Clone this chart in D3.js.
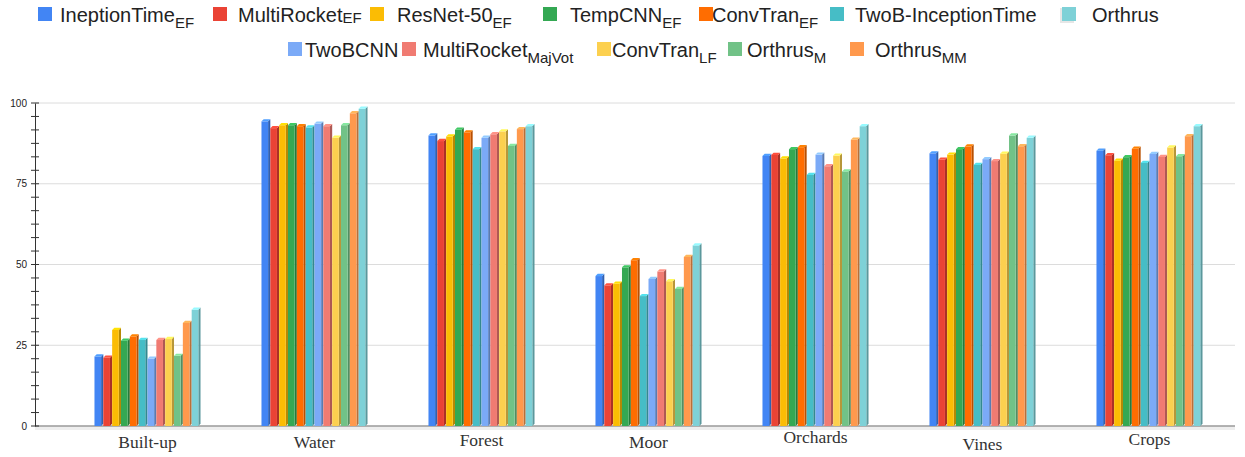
<!DOCTYPE html>
<html><head><meta charset="utf-8">
<script src="https://cdn.jsdelivr.net/npm/d3@7"></script>
<style>
html,body{margin:0;padding:0;background:#fff;}
svg{display:block;}
</style></head>
<body>
<svg id="c" width="1245" height="457"></svg>
<script>
// ---- data ----
const categories = ["Built-up","Water","Forest","Moor","Orchards","Vines","Crops"];
const seriesBase = ["IneptionTime","MultiRocket","ResNet-50","TempCNN","ConvTran","TwoB-InceptionTime","TwoBCNN","MultiRocket","ConvTran","Orthrus","Orthrus","Orthrus"];
const seriesSub  = ["EF","EF","EF","EF","EF","","","MajVot","LF","M","MM",""];
const seriesColors = ["#4285F4","#EA4335","#FBBC04","#34A853","#FF6D01","#46BDC6","#7BAAF7","#F07B72","#FCD04F","#71C287","#FF994D","#7ED1D7"];
// values per series, in category order
const vInceptionTimeEF   = [22.2, 95.0, 90.6, 47.1, 84.3, 85.1, 85.9];
const vMultiRocketEF     = [21.8, 92.9, 88.9, 44.2, 84.6, 83.1, 84.5];
const vResNet50EF        = [30.4, 93.8, 90.3, 44.7, 83.5, 84.7, 82.8];
const vTempCNNEF         = [27.1, 93.8, 92.4, 49.8, 86.4, 86.4, 83.9];
const vConvTranEF        = [28.4, 93.5, 91.6, 52.0, 87.0, 87.2, 86.5];
const vTwoBInceptionTime = [27.3, 93.1, 86.4, 40.9, 78.4, 81.5, 82.1];
const vTwoBCNN           = [21.5, 94.3, 89.9, 46.2, 84.7, 83.3, 84.9];
const vMultiRocketMajVot = [27.3, 93.5, 91.0, 48.5, 81.1, 82.7, 84.0];
const vConvTranLF        = [27.6, 89.9, 91.9, 45.5, 84.4, 85.0, 86.9];
const vOrthrusM          = [22.4, 93.8, 87.4, 43.1, 79.5, 90.6, 84.2];
const vOrthrusMM         = [32.6, 97.5, 92.6, 53.0, 89.3, 87.3, 90.4];
const vOrthrus           = [36.7, 98.9, 93.5, 56.6, 93.5, 89.9, 93.5];
const seriesValues = [vInceptionTimeEF,vMultiRocketEF,vResNet50EF,vTempCNNEF,vConvTranEF,vTwoBInceptionTime,vTwoBCNN,vMultiRocketMajVot,vConvTranLF,vOrthrusM,vOrthrusMM,vOrthrus];
const yTickLabels = [0,25,50,75,100];

// ---- layout ----
const svg = d3.select("#c");
const y = d3.scaleLinear().domain([0,100]).range([426,103]);
const x0 = d3.scaleBand().domain(categories).range([64,1233]).paddingInner(0.365).paddingOuter(0.1825);
const x1 = d3.scaleBand().domain(d3.range(seriesBase.length)).range([0,x0.bandwidth()]);
const depth = 2.2;

// gridlines
svg.append("g").selectAll("line").data(yTickLabels.filter(d=>d>0)).join("line")
  .attr("x1",35).attr("x2",1235).attr("y1",d=>y(d)).attr("y2",d=>y(d))
  .attr("stroke","#dcdcdc").attr("stroke-width",1);

// baseline with shadow
svg.append("rect").attr("x",35).attr("y",y(0)).attr("width",1200).attr("height",4).attr("fill","#eeeeee");
svg.append("line").attr("x1",35).attr("x2",1235).attr("y1",y(0)).attr("y2",y(0))
  .attr("stroke","#9a9a9a").attr("stroke-width",1.6);

// bars
const groups = svg.append("g").selectAll("g").data(categories).join("g")
  .attr("transform",d=>`translate(${x0(d)},0)`);
groups.each(function(cat,ci){
  const g = d3.select(this);
  const recs = seriesValues.map((arr,si)=>({si,v:arr[ci]}));
  const bw = x1.bandwidth();
  const fw = bw - depth;
  const bar = g.selectAll("g.bar").data(recs).join("g").attr("class","bar");
  // side face
  bar.append("path").attr("d",d=>{
    const xl = x1(d.si)+fw, yt = y(d.v)+depth, yb = y(0);
    return `M${xl},${yt}L${xl+depth},${yt-depth}L${xl+depth},${yb-depth}L${xl},${yb}Z`;
  }).attr("fill",d=>d3.color(seriesColors[d.si]).darker(0.9));
  // front face
  bar.append("rect").attr("x",d=>x1(d.si)).attr("y",d=>y(d.v)+depth)
    .attr("width",fw).attr("height",d=>y(0)-y(d.v)-depth)
    .attr("fill",d=>seriesColors[d.si]);
  // top cap
  bar.append("path").attr("d",d=>{
    const xl = x1(d.si), yt = y(d.v)+depth;
    return `M${xl},${yt}L${xl+depth},${yt-depth}L${xl+fw+depth},${yt-depth}L${xl+fw},${yt}Z`;
  }).attr("fill",d=>d3.color(seriesColors[d.si]).brighter(0.5));
});

// y axis
const yAxis = d3.axisLeft(y).tickValues(yTickLabels).tickSize(0).tickPadding(8);
const ya = svg.append("g").attr("transform","translate(35,0)").call(yAxis);
ya.select(".domain").attr("stroke","#333");
ya.selectAll("text").attr("font-family","Liberation Sans, Arial, sans-serif").attr("font-size",10).attr("fill","#222");
const minor = d3.range(0,24).map(i=>i*25/6).concat([100]);
svg.append("g").selectAll("line").data(minor).join("line")
  .attr("x1",31).attr("x2",39).attr("y1",d=>y(d)).attr("y2",d=>y(d))
  .attr("stroke","#333").attr("stroke-width",1);

// category labels
const labelDy = [443,443,441,443,438,445,440];
svg.append("g").selectAll("text").data(categories).join("text")
  .attr("x",d=>x0(d)+x0.bandwidth()/2).attr("y",(d,i)=>labelDy[i]+5)
  .attr("text-anchor","middle")
  .attr("font-family","Liberation Serif, Times New Roman, serif").attr("font-size",17.5)
  .attr("fill","#333").text(d=>d);

// legend
const legendOrder = [0,1,2,3,4,5,11,6,7,8,9,10];
const legendPos = [[38,213,370,543,699,830,1062],[288,402,597,728,850]];
const legendTextGap = [[22,25,27,27,13,25,30],[17,21,15,19,25]];
const legendSubDy = [6,1,6,6,6,0,0,6,6,6,6,0];
const legendY = [14,49];
let k = 0;
legendPos.forEach((row,ri)=>{
  row.forEach((px,j)=>{
    const si = legendOrder[k++];
    const g = svg.append("g");
    if(si===11) g.append("rect").attr("x",px-2).attr("y",legendY[ri]-6).attr("width",14).attr("height",15)
      .attr("fill","#e6e6e6");
    g.append("rect").attr("x",px).attr("y",legendY[ri]-7).attr("width",14).attr("height",14)
      .attr("fill",seriesColors[si]);
    const t = g.append("text").attr("x",px+legendTextGap[ri][j]).attr("y",legendY[ri]+8)
      .attr("font-family","Liberation Sans, Arial, sans-serif").attr("font-size",20).attr("fill","#222");
    t.append("tspan").text(seriesBase[si]);
    if(seriesSub[si]) t.append("tspan").attr("dy",legendSubDy[si]).attr("font-size",15).text(seriesSub[si]);
  });
});
</script>
</body></html>
